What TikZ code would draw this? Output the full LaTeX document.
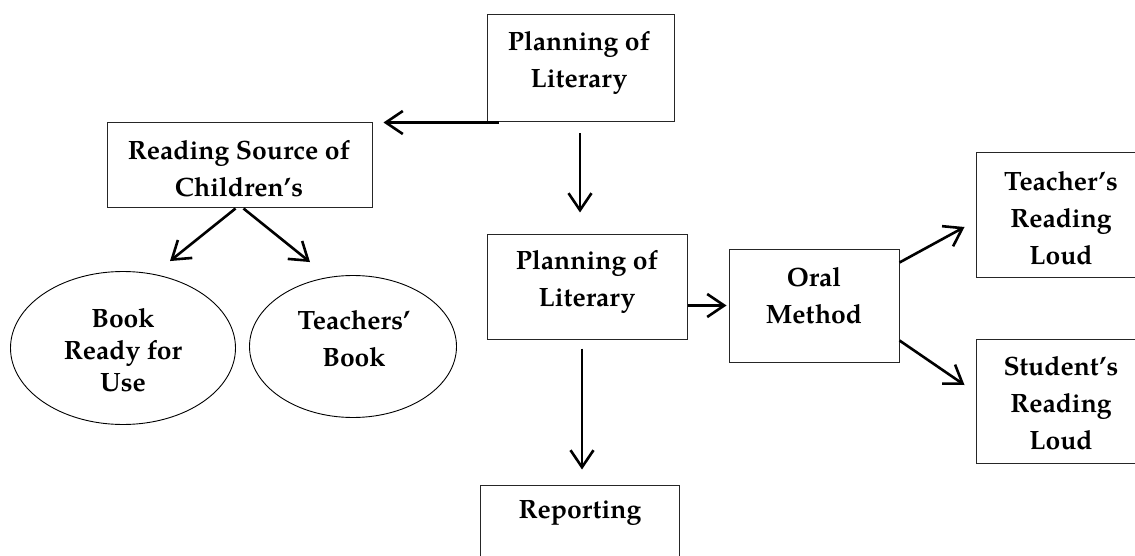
\documentclass[tikz,border=0pt]{standalone}
\usepackage{fontspec}
\setmainfont{texgyrepagella}[Extension=.otf,UprightFont=*-regular,BoldFont=*-bold,ItalicFont=*-italic,BoldItalicFont=*-bolditalic]
\usetikzlibrary{arrows.meta,shapes.geometric,calc}
\begin{document}
\begin{tikzpicture}[x=1pt,y=-1pt,
  box/.style={draw=black!85,line width=1pt,inner sep=0pt},
  oval/.style={ellipse,draw=black,line width=0.9pt,inner sep=0pt},
  txt/.style={font=\fontsize{26.5}{37}\selectfont\bfseries,align=center,inner sep=0pt},
  arr/.style={line width=2.6pt,-{Straight Barb[length=17pt,width=23pt,line width=2.6pt]}}]
\useasboundingbox (0,0) rectangle (1135,556);
\clip (0,0) rectangle (1135,556);
% boxes
\node[box,minimum width=187pt,minimum height=107pt] (b1) at (580.5,68.5) {};
\node[box,minimum width=265pt,minimum height=85pt] (b2) at (239.5,165.5) {};
\node[oval,minimum width=225pt,minimum height=153pt] (e1) at (123,348) {};
\node[oval,minimum width=207pt,minimum height=142pt] (e2) at (353,346.5) {};
\node[box,minimum width=200pt,minimum height=104pt] (b3) at (587,287) {};
\node[box,minimum width=170pt,minimum height=113pt] (b4) at (814,305.5) {};
\node[box,minimum width=199pt,minimum height=115pt] (b5) at (579.5,542.5) {};
\node[box,minimum width=184pt,minimum height=124pt] (b6) at (1068,215) {};
\node[box,minimum width=184pt,minimum height=124pt] (b7) at (1068,401) {};
% texts
\node[txt] (t1) at (579,63) {Planning of\\Literary};
\node[txt] (t2) at (239,169) {Reading Source of\\Children’s};
\node[txt,font=\fontsize{26.5}{32}\selectfont\bfseries] (t3) at (123,350) {Book\\Ready for\\Use};
\node[txt] (t4) at (354,339) {Teachers’\\Book};
\node[txt] (t5) at (587,282) {Planning of\\Literary};
\node[txt] (t6) at (814,296) {Oral\\Method};
\node[txt] (t7) at (580,513) {Reporting};
\node[txt] (t8) at (1061,218) {Teacher’s\\Reading\\Loud};
\node[txt] (t9) at (1061,403) {Student’s\\Reading\\Loud};
% connectors
\draw[arr] ($(b1.south west)+(12,0)$) -- ($(b2.north east)+(11,0)$);
\draw[arr,shorten <=11pt,shorten >=22pt] ($(b1.south)+(-0.5,0)$) coordinate (c1) -- (c1 |- b3.north);
\draw[arr] ($(b2.south)+(-4,0)$) -- ($(e1.north)+(47,-10)$);
\draw[arr] ($(b2.south)+(4,0)$) -- ($(e2.north)+(-43,-13)$);
\draw[arr,shorten >=2pt] (b3.east |- b4.west) -- (b4.west);
\draw[arr,shorten <=9pt,shorten >=15pt] ($(b3.south)+(-5,0)$) coordinate (c2) -- (c2 |- b5.north);
\draw[arr] ($(b4.north east)+(0,14)$) -- ($(b6.west)+(-11,12)$);
\draw[arr] ($(b4.south east)+(0,-22)$) -- ($(b7.west)+(-11,-16)$);
\end{tikzpicture}
\end{document}
